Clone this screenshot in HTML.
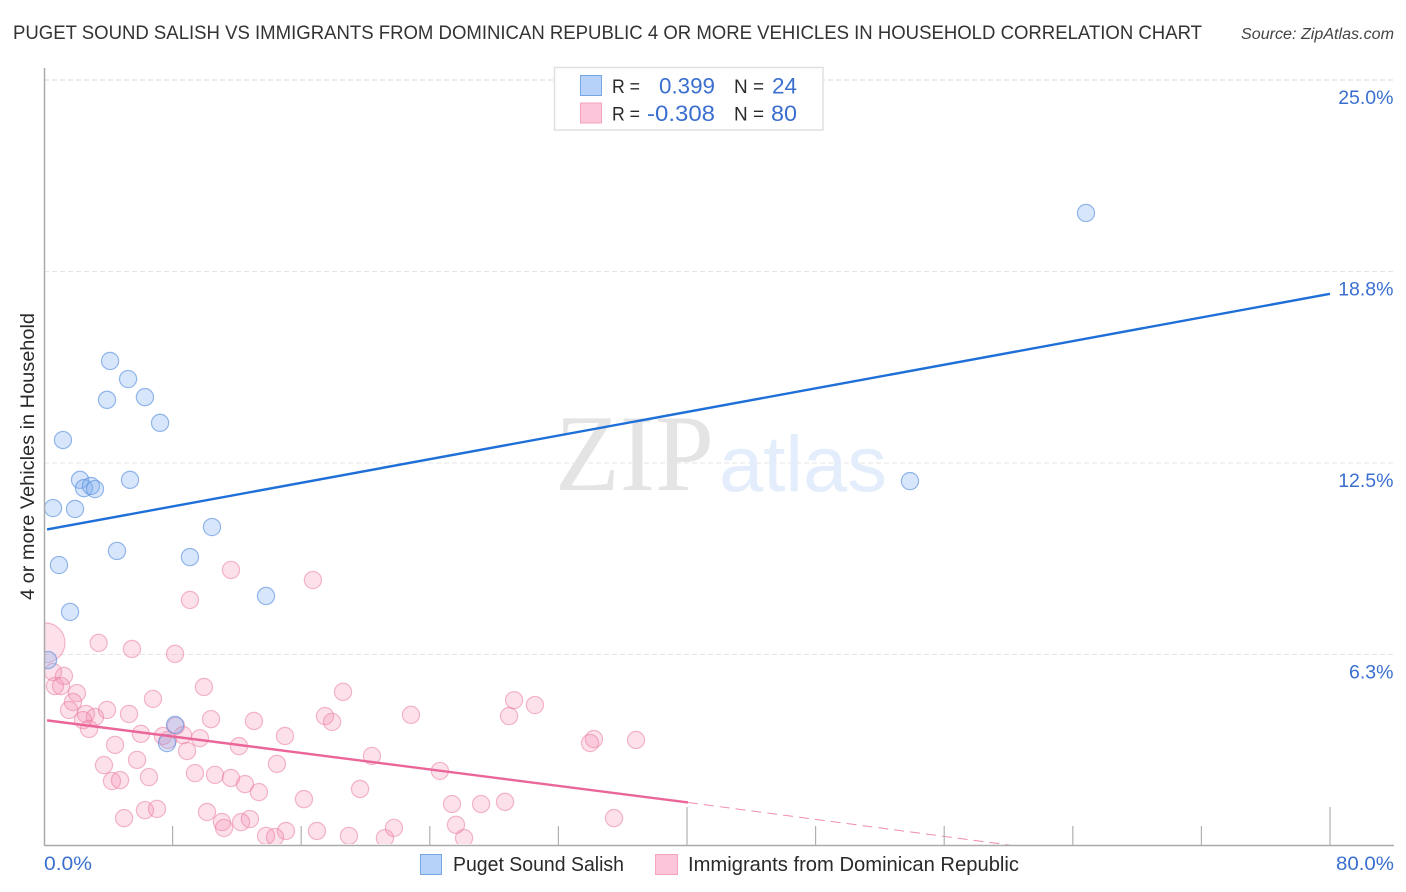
<!DOCTYPE html>
<html>
<head>
<meta charset="utf-8">
<title>Puget Sound Salish vs Immigrants from Dominican Republic correlation chart</title>
<style>
html,body{margin:0;padding:0;background:#fff;width:1406px;height:892px;overflow:hidden}
svg{display:block}
text{font-family:"Liberation Sans",sans-serif}
</style>
</head>
<body>
<svg id="chart" xmlns="http://www.w3.org/2000/svg" width="1406" height="892" viewBox="0 0 1406 892">
  <defs>
    <clipPath id="plot-clip"><rect x="44" y="60" width="1350" height="784"/></clipPath>
  </defs>
  <rect x="0" y="0" width="1406" height="892" fill="#fff"/>
  <text x="13" y="39" font-size="19.5" fill="#333" textLength="1189" lengthAdjust="spacingAndGlyphs">PUGET SOUND SALISH VS IMMIGRANTS FROM DOMINICAN REPUBLIC 4 OR MORE VEHICLES IN HOUSEHOLD CORRELATION CHART</text>
  <text x="1241" y="39" font-size="15.5" font-style="italic" fill="#444" textLength="153" lengthAdjust="spacingAndGlyphs">Source: ZipAtlas.com</text>

  <g id="grid"></g>

  <g>
    <text x="555" y="490" font-size="109" fill="#e4e4e4" style="font-family:'Liberation Serif',serif" textLength="159" lengthAdjust="spacingAndGlyphs">ZIP</text>
    <text x="719" y="491" font-size="79" fill="#e3edfb" textLength="168" lengthAdjust="spacingAndGlyphs">atlas</text>
  </g>

  <g id="pink-points" clip-path="url(#plot-clip)"></g>
  <g id="blue-points" clip-path="url(#plot-clip)"></g>
  <g id="trends"></g>

  <g id="axes">
    <line x1="44.5" y1="68" x2="44.5" y2="845.5" stroke="#aaa" stroke-width="1.5"/>
    <line x1="44" y1="845.5" x2="1394" y2="845.5" stroke="#aaa" stroke-width="1.5"/>
  </g>
  <g id="x-ticks"></g>
  <g id="y-labels"></g>

  <text x="44" y="870" font-size="19.5" fill="#3a6fd0" textLength="48" lengthAdjust="spacingAndGlyphs">0.0%</text>
  <text x="1336" y="870" font-size="19.5" fill="#3a6fd0" textLength="58" lengthAdjust="spacingAndGlyphs">80.0%</text>

  <text transform="translate(34,600) rotate(-90)" x="0" y="0" font-size="19" fill="#2a2a2a" textLength="287" lengthAdjust="spacingAndGlyphs">4 or more Vehicles in Household</text>

  <g>
    <rect x="554.5" y="67.5" width="268.5" height="62.5" fill="#fff" stroke="#e0e0e0" stroke-width="1.5"/>
    <rect x="580.5" y="75.5" width="21" height="20" fill="#b6d2f8" stroke="#78a6e2" stroke-width="1"/>
    <rect x="580.5" y="103" width="21" height="20" fill="#fcc5d9" stroke="#f5a3bf" stroke-width="1"/>
    <text x="612" y="93" font-size="19.5" fill="#2a2a2a" textLength="28" lengthAdjust="spacingAndGlyphs">R =</text>
    <text x="659" y="93.5" font-size="22" fill="#3a6fd0" textLength="56" lengthAdjust="spacingAndGlyphs">0.399</text>
    <text x="734" y="93" font-size="19.5" fill="#2a2a2a" textLength="30" lengthAdjust="spacingAndGlyphs">N =</text>
    <text x="772" y="93.5" font-size="22" fill="#3a6fd0" textLength="25" lengthAdjust="spacingAndGlyphs">24</text>
    <text x="612" y="120.5" font-size="19.5" fill="#2a2a2a" textLength="28" lengthAdjust="spacingAndGlyphs">R =</text>
    <text x="647" y="121" font-size="22" fill="#3a6fd0" textLength="68" lengthAdjust="spacingAndGlyphs">-0.308</text>
    <text x="734" y="120.5" font-size="19.5" fill="#2a2a2a" textLength="30" lengthAdjust="spacingAndGlyphs">N =</text>
    <text x="771" y="121" font-size="22" fill="#3a6fd0" textLength="26" lengthAdjust="spacingAndGlyphs">80</text>
  </g>

  <g>
    <rect x="420.5" y="854.5" width="21" height="20" fill="#b6d2f8" stroke="#78a6e2" stroke-width="1"/>
    <text x="453" y="871" font-size="20" fill="#2a2a2a" textLength="171" lengthAdjust="spacingAndGlyphs">Puget Sound Salish</text>
    <rect x="655.5" y="854.5" width="22" height="20" fill="#fcc5d9" stroke="#f5a3bf" stroke-width="1"/>
    <text x="688" y="871" font-size="20" fill="#2a2a2a" textLength="331" lengthAdjust="spacingAndGlyphs">Immigrants from Dominican Republic</text>
  </g>
</svg>
<script>
const blueX = [64.82,53.87,4.11,5.23,3.92,6.28,7.22,1.18,2.24,2.49,2.92,3.17,5.35,0.56,1.93,4.54,10.45,9.08,0.93,1.62,13.81,0.25,8.15,7.65];
const blueY = [20.66,11.91,15.83,15.24,14.56,14.65,13.81,13.25,11.95,11.68,11.75,11.65,11.95,11.03,11.0,9.63,10.41,9.43,9.17,7.64,8.16,6.07,3.95,3.36];
const pinkX = [0.06,3.40,5.47,8.15,1.24,0.56,0.68,1.06,2.05,1.80,1.56,2.61,3.17,2.43,2.80,3.92,5.29,6.78,9.95,10.39,13.06,14.99,18.60,17.48,17.92,6.03,7.40,8.21,8.65,7.71,9.70,12.13,4.42,8.90,5.79,3.73,4.23,4.73,6.53,9.39,10.64,11.63,12.50,13.37,14.49,16.17,4.98,6.28,7.03,10.14,11.07,11.20,12.26,12.81,15.05,13.81,14.37,16.98,18.97,22.83,20.40,24.63,19.66,21.21,21.77,25.38,27.19,28.68,25.63,26.13,29.24,30.54,28.93,34.21,33.97,36.83,35.46,11.63,9.08,16.73];
const pinkY = [6.63,6.63,6.43,6.27,5.55,5.68,5.22,5.22,4.99,4.70,4.44,4.31,4.21,4.11,3.82,4.44,4.31,4.80,5.19,4.14,4.08,3.59,5.03,4.24,4.05,3.66,3.59,3.92,3.62,3.46,3.52,3.26,3.30,3.10,2.81,2.64,2.12,2.15,2.25,2.38,2.32,2.22,2.02,1.76,2.68,1.53,0.91,1.17,1.21,1.11,0.78,0.59,0.78,0.88,0.49,0.33,0.29,0.49,0.33,4.28,2.94,2.45,1.86,0.26,0.59,1.37,1.37,1.44,0.69,0.26,4.76,4.60,4.24,3.49,3.36,3.46,0.91,9.01,8.03,8.68];
const blueTrendX = [0.19, 80];
const blueTrendY = [10.33, 18.02];
const pinkTrendX = [0.19, 40.06];
const pinkTrendY = [4.10, 1.42];
const pinkDashX = [40.06, 60.09];
const pinkDashY = [1.42, 0.03];
const xTickValues = [8, 16, 24, 32, 40, 48, 56, 64, 72, 80];
const xMajorTicks = [40, 80];
const yTickValues = [6.25, 12.5, 18.75, 25];
const yTickLabels = ['6.3%', '12.5%', '18.8%', '25.0%'];

const NS = 'http://www.w3.org/2000/svg';
function xPos(v) { return 44 + 16.075 * v; }
function yPos(v) { return 846 - 30.64 * v; }
function make(tag, attrs, parent) {
  const el = document.createElementNS(NS, tag);
  for (const k in attrs) el.setAttribute(k, attrs[k]);
  parent.appendChild(el);
  return el;
}

const gridGroup = document.getElementById('grid');
yTickValues.forEach(function (v, i) {
  const top = i === yTickValues.length - 1;
  const grid = make('line', {x1: 44, x2: 1394, y1: yPos(v), y2: yPos(v), stroke: top ? '#d8d8d8' : '#e6e6e6', 'stroke-width': 1, 'stroke-dasharray': '5 3'}, gridGroup);
  
  
});

const pinkGroup = document.getElementById('pink-points');
pinkX.forEach(function (v, i) {
  const dot = make('circle', {cx: xPos(v), cy: yPos(pinkY[i]), r: i === 0 ? 20 : 8.6, fill: '#f590b4', 'fill-opacity': 0.28, stroke: '#ea7fa3', 'stroke-opacity': 0.55, 'stroke-width': 1.2}, pinkGroup);
  
  
});

const blueGroup = document.getElementById('blue-points');
blueX.forEach(function (v, i) {
  const dot = make('circle', {cx: xPos(v), cy: yPos(blueY[i]), r: 8.6, fill: '#7aabee', 'fill-opacity': 0.3, stroke: '#5f93e0', 'stroke-opacity': 0.65, 'stroke-width': 1.2}, blueGroup);
  
  
});

const trendGroup = document.getElementById('trends');
const blueLine = make('line', {x1: xPos(blueTrendX[0]), y1: yPos(blueTrendY[0]), x2: xPos(blueTrendX[1]), y2: yPos(blueTrendY[1]), stroke: '#1f6fd8', 'stroke-width': 2.4}, trendGroup);


const pinkLine = make('line', {x1: xPos(pinkTrendX[0]), y1: yPos(pinkTrendY[0]), x2: xPos(pinkTrendX[1]), y2: yPos(pinkTrendY[1]), stroke: '#ea6699', 'stroke-width': 2.4}, trendGroup);


const pinkDash = make('line', {x1: xPos(pinkDashX[0]), y1: yPos(pinkDashY[0]), x2: xPos(pinkDashX[1]), y2: yPos(pinkDashY[1]), stroke: '#ea6699', 'stroke-width': 1, 'stroke-dasharray': '10 6', 'stroke-opacity': 0.75}, trendGroup);



const tickGroup = document.getElementById('x-ticks');
xTickValues.forEach(function (v) {
  const tick = make('line', {x1: xPos(v), x2: xPos(v), y1: xMajorTicks.indexOf(v) >= 0 ? 807 : 826, y2: 845, stroke: '#b0b0b0', 'stroke-width': 1.2}, tickGroup);
  
  
});

const labelGroup = document.getElementById('y-labels');
yTickValues.forEach(function (v, i) {
  const label = make('text', {x: 1393.5, y: yPos(v) + 24, 'text-anchor': 'end', 'font-size': 19.5, fill: '#3a6fd0'}, labelGroup);
  
  
  label.textContent = yTickLabels[i];
});
</script>
</body>
</html>
